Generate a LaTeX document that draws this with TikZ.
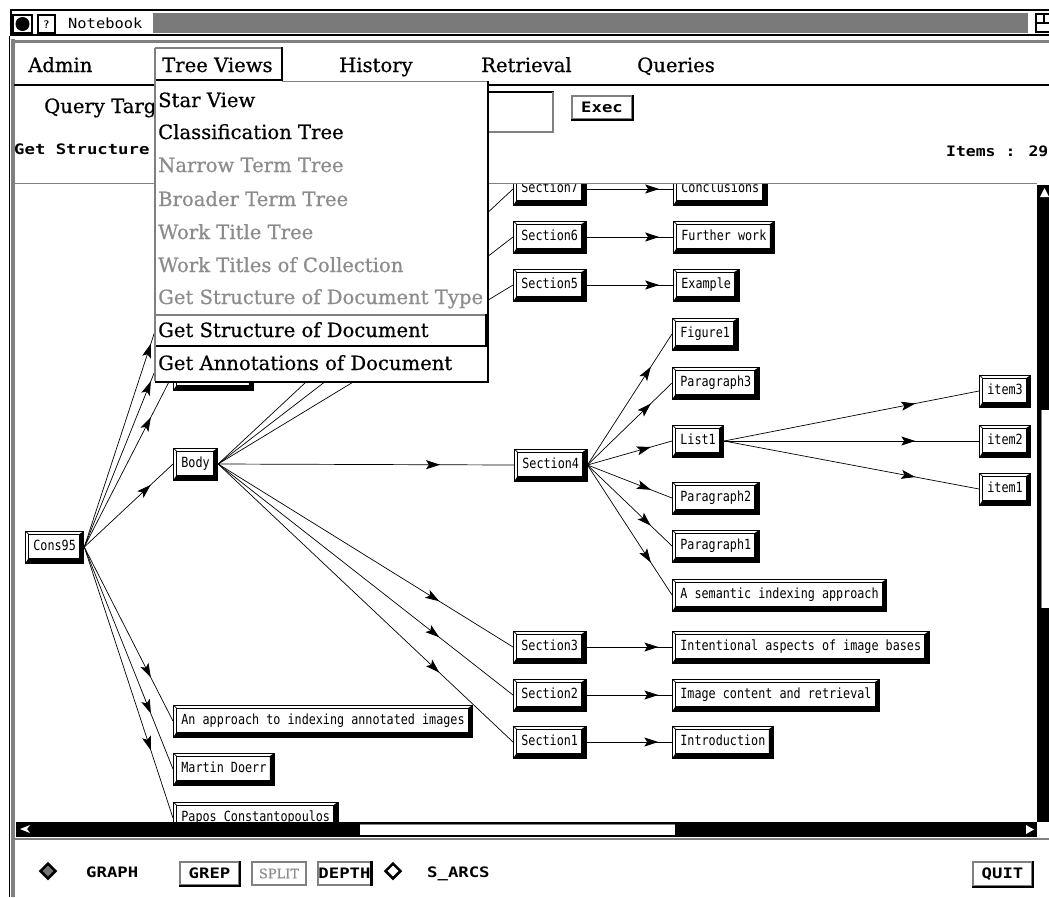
\documentclass[tikz,border=0pt]{standalone}
\usepackage{fontspec}
\usetikzlibrary{arrows.meta,decorations.markings,shapes.geometric}
\newfontfamily\menufont[FakeBold=0.6]{DejaVu Serif}
\newfontfamily\gfont[FakeStretch=0.84]{DejaVu Sans Mono}
\newfontfamily\labfont[FakeStretch=1.2]{DejaVu Sans Mono}
\newfontfamily\cntfont[FakeStretch=1.14]{DejaVu Sans Mono}
\newfontfamily\ttlfont[FakeStretch=1.1]{DejaVu Sans Mono}
\definecolor{stipple}{gray}{0.5}

\tikzset{
  gnode/.style={draw=black, line width=0.8pt, fill=white, anchor=west,
    font=\gfont\fontsize{14pt}{16pt}\selectfont, inner xsep=8pt, inner ysep=0pt,
    minimum height=32pt, text height=10pt, text depth=2.5pt,
    path picture={
      \fill[black] (path picture bounding box.south west) -- (path picture bounding box.south east)
        -- (path picture bounding box.north east) -- ([xshift=-4.5pt,yshift=-3pt]path picture bounding box.north east)
        -- ([xshift=-4.5pt,yshift=4.5pt]path picture bounding box.south east)
        -- ([xshift=3pt,yshift=4.5pt]path picture bounding box.south west) -- cycle;
      \draw[line width=0.7pt] ([xshift=3pt,yshift=4.5pt]path picture bounding box.south west)
        rectangle ([xshift=-4.5pt,yshift=-3pt]path picture bounding box.north east);
      \draw[line width=0.6pt] (path picture bounding box.north west) -- ([xshift=3pt,yshift=-3pt]path picture bounding box.north west);
    }},
  arr/.style={line width=0.7pt, postaction={decorate},
    decoration={markings, mark=at position #1 with {\arrow{Stealth[length=14pt,width=9pt,inset=3pt]}}}},
  arr/.default=0.75,
  mitem/.style={anchor=base west, inner sep=0pt, font=\menufont\fontsize{19.6pt}{22pt}\selectfont},
  mgray/.style={mitem, text=black!45},
  lab/.style={anchor=base west, inner sep=0pt, font=\labfont\bfseries\fontsize{14.4pt}{16pt}\selectfont},
  stip/.style={draw=stipple, line width=1.5pt},
  blk/.style={draw=black, line width=2pt},
  btn/.style={font=\labfont\bfseries\fontsize{14.4pt}{16pt}\selectfont, inner sep=0pt,
    draw=stipple, line width=1.2pt, fill=white},
}

\begin{document}
\begin{tikzpicture}[x=1pt,y=-1pt]
\useasboundingbox (0,0) rectangle (1049,897);
\fill[white] (0,0) rectangle (1049,897);

% ---------------- graph canvas ----------------
\begin{scope}
  \clip (15,184) rectangle (1037,821);
  \node[gnode] (cons) at (25,547) {Cons95};
  \node[gnode] (body) at (173,464) {Body};
  \node[gnode, minimum width=80pt] (hid) at (173,374) {};
  \coordinate (hidA) at (173,276);
  \coordinate (hidB) at (173,326);

  \node[gnode] (s7) at (513,189) {Section7};
  \node[gnode] (s6) at (513,237) {Section6};
  \node[gnode] (s5) at (513,285) {Section5};
  \node[gnode] (s4) at (514,465) {Section4};
  \node[gnode] (s3) at (513,647) {Section3};
  \node[gnode] (s2) at (513,695) {Section2};
  \node[gnode] (s1) at (513,742) {Section1};

  \node[gnode] (concl) at (673,189) {Conclusions};
  \node[gnode] (fw) at (673,237) {Further work};
  \node[gnode] (ex) at (673,285) {Example};
  \node[gnode] (fig1) at (672,334) {Figure1};
  \node[gnode] (p3) at (672,383) {Paragraph3};
  \node[gnode] (list1) at (672,441) {List1};
  \node[gnode] (p2) at (672,498) {Paragraph2};
  \node[gnode] (p1) at (672,546) {Paragraph1};
  \node[gnode] (sem) at (672,595) {A semantic indexing approach};
  \node[gnode] (ia) at (672,647) {Intentional aspects of image bases};
  \node[gnode] (ic) at (672,695) {Image content and retrieval};
  \node[gnode] (intro) at (672,742) {Introduction};

  \node[gnode] (it3) at (979,391) {item3};
  \node[gnode] (it2) at (979,441) {item2};
  \node[gnode] (it1) at (979,489) {item1};

  \node[gnode] (appr) at (173,721) {An approach to indexing annotated images};
  \node[gnode] (md) at (173,769) {Martin Doerr};
  \node[gnode] (pc) at (173,818) {Papos Constantopoulos};

  % links from the root
  \draw[arr] (cons.east) -- (hidA);
  \draw[arr] (cons.east) -- (hidB);
  \draw[arr] (cons.east) -- (hid.west);
  \draw[arr] (cons.east) -- (body.west);
  \draw[arr] (cons.east) -- (appr.west);
  \draw[arr] (cons.east) -- (md.west);
  \draw[arr] (cons.east) -- (pc.west);
  % body sections
  \foreach \t in {s7,s6,s5,s4,s3,s2,s1} \draw[arr] (body.east) -- (\t.west);
  % section 4 parts
  \foreach \t in {fig1,p3,list1,p2,p1,sem} \draw[arr] (s4.east) -- (\t.west);
  % list items
  \foreach \t in {it3,it2,it1} \draw[arr] (list1.east) -- (\t.west);
  % section titles
  \draw[arr=0.84] (s7.east) -- (concl.west);
  \draw[arr=0.84] (s6.east) -- (fw.west);
  \draw[arr=0.84] (s5.east) -- (ex.west);
  \draw[arr=0.84] (s3.east) -- (ia.west);
  \draw[arr=0.84] (s2.east) -- (ic.west);
  \draw[arr=0.84] (s1.east) -- (intro.west);
\end{scope}

% canvas border and scrollbars
\draw[stip, line width=1pt] (15,183) -- (1037,183);
\fill[black] (1037,185) rectangle (1049,822);
\fill[white] (1040,197) -- (1044.5,188) -- (1049,197) -- cycle;
\fill[white] (1041,410) rectangle (1049,608);
\draw[stip, line width=1pt] (1041.5,410) -- (1041.5,608);
\fill[black] (16,822) rectangle (1037,837);
\fill[white] (360,824) rectangle (675,835);
\draw[stip, line width=1pt] (360,824.5) -- (675,824.5);
\fill[white] (20,829) -- (30,825) -- (27,829) -- (30,833) -- cycle;
\fill[white] (1026,825) -- (1034,829.5) -- (1026,834) -- cycle;
\fill[white] (1040,825) -- (1048,825) -- (1044,833) -- cycle;
\draw[stip] (15,839) -- (1049,839);

% ---------------- window frame and title bar ----------------
\draw[line width=1.2pt] (9.5,36) -- (9.5,897);
\draw[stip, line width=4pt] (12.5,39) -- (12.5,897);
\draw[line width=2pt] (10,10) -- (1049,10);
\draw[line width=2pt] (10,35) -- (1049,35);
\draw[line width=2pt] (11,10) -- (11,35);
\draw[line width=1.2pt] (13,15) rectangle (32,33);
\fill[black] (22.5,24) circle (7);
\draw[line width=1.2pt] (38,15) rectangle (55,33);
\node[font=\sffamily\bfseries\fontsize{11pt}{12pt}\selectfont, inner sep=0pt] (qm) at (46.5,24.5) {?};
\node[anchor=base west, inner sep=0pt, font=\ttlfont\fontsize{14pt}{16pt}\selectfont] (ttl) at (68,28.5) {Notebook};
\fill[black!52] (153,13) rectangle (1028,33);
\draw[line width=1.2pt] (1036,14) rectangle (1052,32);
\draw[line width=1.2pt] (1036,23) -- (1052,23);
\draw[line width=1.2pt] (1044,14) -- (1044,23);
\draw[stip, line width=3pt] (12,41) -- (1049,41);

% ---------------- menu bar ----------------
\node[mitem] (admin) at (28,72) {Admin};
\node[mitem] (tree) at (162,72) {Tree Views};
\node[mitem] (hist) at (339,72) {History};
\node[mitem] (retr) at (481,72) {Retrieval};
\node[mitem] (quer) at (637,72) {Queries};
\draw[blk] (14,84.5) -- (155,84.5);
\draw[blk] (488,84.5) -- (1049,84.5);
\draw[stip] (155,48) -- (282,48);
\draw[blk] (282,47) -- (282,80) -- (155,80);

% ---------------- query line ----------------
\begin{scope}
  \clip (14,90) rectangle (154,130);
  \node[mitem] (qt) at (44,113) {Query Targ};
\end{scope}
\draw[blk] (489,92) -- (554,92);
\draw[stip] (553,92) -- (553,132) -- (489,132);
\node[btn, minimum width=60pt, minimum height=23pt] (exec) at (602,107.5) {Exec};
\draw[blk] (exec.north east) -- (exec.south east) -- (exec.south west);
\node[lab] (gs) at (14,154) {Get Structure};
\node[anchor=base west, inner sep=0pt, font=\cntfont\bfseries\fontsize{14.4pt}{16pt}\selectfont] (items) at (946,156) {Items : 29};

% ---------------- drop-down menu ----------------
\fill[white] (154,81) rectangle (489,381);
\draw[stip] (155,48) -- (155,381);
\draw[stip] (282,81.5) -- (488,81.5);
\draw[blk] (488,81) -- (488,381.5) -- (155,381.5);
\draw[stip, line width=1.2pt] (156,315) -- (486,315);
\draw[line width=3pt] (486,314) -- (486,346);
\draw[blk] (156,345.5) -- (488,345.5);

\node[mitem] (m1) at (158,107) {Star View};
\node[mitem] (m2) at (158,139) {Classification Tree};
\node[mgray] (m3) at (158,172) {Narrow Term Tree};
\node[mgray] (m4) at (158,206) {Broader Term Tree};
\node[mgray] (m5) at (158,239) {Work Title Tree};
\node[mgray] (m6) at (158,272) {Work Titles of Collection};
\node[mgray] (m7) at (158,304) {Get Structure of Document Type};
\node[mitem] (m8) at (158,337) {Get Structure of Document};
\node[mitem] (m9) at (158,370) {Get Annotations of Document};

% ---------------- bottom control bar ----------------
\node[diamond, draw=black, fill=black!55, line width=2.5pt, minimum size=16pt, inner sep=0pt] (gdia) at (48,871) {};
\node[lab] (graph) at (86,877) {GRAPH};
\node[btn, minimum width=59pt, minimum height=23pt] (grep) at (209.5,873.5) {GREP};
\draw[blk] (grep.north east) -- (grep.south east) -- (grep.south west);
\node[btn, minimum width=54pt, minimum height=23pt, text=black!45, font=\menufont\fontsize{13pt}{14pt}\selectfont] (split) at (279,873.5) {SPLIT};
\node[btn, minimum width=53pt, minimum height=23pt] (depth) at (344.5,873.5) {DEPTH};
\draw[line width=3pt] (depth.north east) -- (depth.south east);
\node[diamond, draw=black, fill=white, line width=2.5pt, minimum size=16pt, inner sep=0pt] (sdia) at (393,871) {};
\node[lab] (sarcs) at (427,877) {S\_ARCS};
\node[btn, minimum width=59pt, minimum height=24pt] (quit) at (1002.5,874) {QUIT};
\draw[blk] (quit.north east) -- (quit.south east) -- (quit.south west);
\end{tikzpicture}
\end{document}
